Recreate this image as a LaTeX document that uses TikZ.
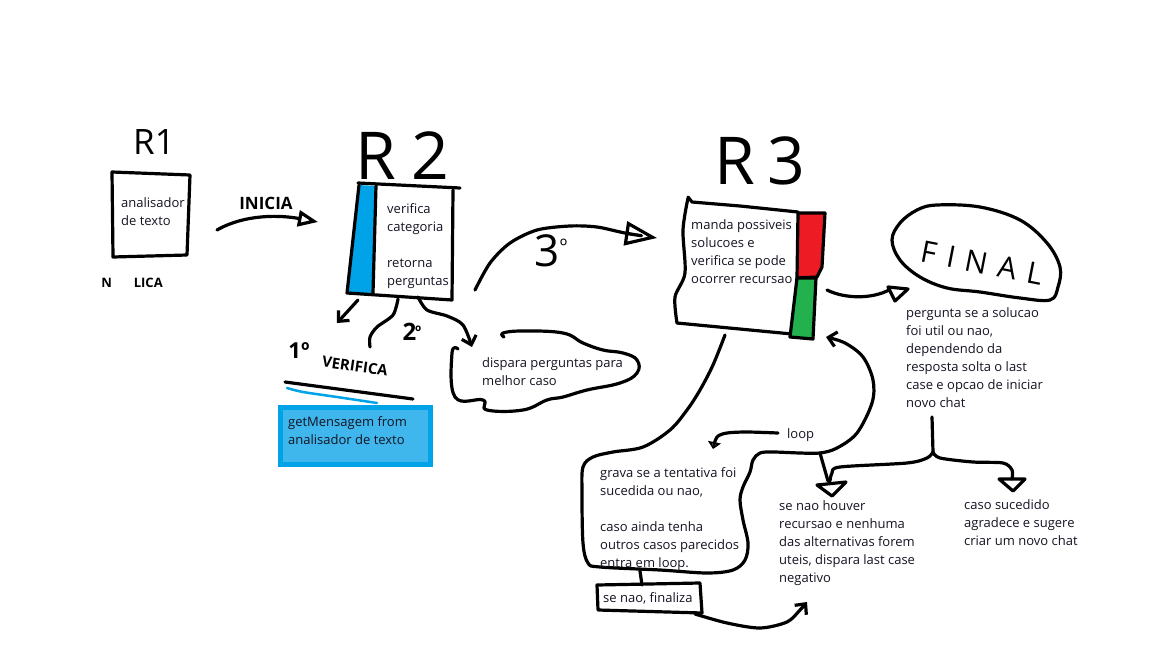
\documentclass[tikz,border=0pt]{standalone}
\usepackage{fontspec}
\setmainfont{Open Sans}
\usetikzlibrary{arrows.meta}
\definecolor{paintblue}{RGB}{0,162,232}
\definecolor{boxblue}{RGB}{63,182,236}
\definecolor{paintred}{RGB}{237,28,36}
\definecolor{paintgreen}{RGB}{34,177,76}
\definecolor{inktext}{RGB}{20,20,35}
\tikzset{
  ink/.style={line width=3.2pt, line cap=round, line join=round, draw=black},
  note/.style={anchor=north west, inner sep=0pt, align=left, text=inktext,
    font=\fontsize{13}{18}\selectfont},
  hand/.style={inner sep=0pt, text=black},
  barb/.style={-{Straight Barb[length=8pt,width=15pt]}},
}
\begin{document}
\begin{tikzpicture}[x=1pt,y=-1pt]
\fill[white] (0,0) rectangle (1152,648);
\useasboundingbox (0,0) rectangle (1152,648);

% ---------- R1 ----------
\node[hand, font=\fontsize{35}{35}\selectfont] (r1label) at (154,142) {R1};
\draw[ink] (112,172) -- (190,175) -- (187,255) -- (113,257) -- cycle;
\node[note] (r1text) at (121,197) {analisador\\de texto};
\node[hand, font=\bfseries\fontsize{13}{13}\selectfont] (r1note) at (132,283) {N\hspace{22pt}LICA};

% INICIA arrow
\coordinate (r1out) at (217,230);
\coordinate (r2in) at (318,222);
\draw[ink, -{Triangle[open,length=20pt,width=16pt]}] (r1out) .. controls (245,214) and (280,215) .. (r2in);
\node[hand, font=\bfseries\fontsize{17}{17}\selectfont] (inicia) at (266,203) {INICIA};

% ---------- R2 ----------
\node[hand, font=\fontsize{66}{66}\selectfont] (r2label) at (402,156) {R\hspace{15pt}2};
\fill[paintblue] (359,185) -- (376,186) -- (372,293) -- (347,293) -- cycle;
\draw[ink] (358,183) -- (460,188);
\draw[ink] (359,185) -- (347,293) -- (452,300) -- (453,190);
\draw[ink] (376,186) -- (373,293);
\node[note] (r2text) at (387,203) {verifica\\categoria\\[18pt]retorna\\perguntas};

% arrows leaving R2
\coordinate (r2a) at (358,300);
\coordinate (r2b) at (398,299);
\coordinate (r2c) at (418,297);
\draw[ink, barb] (r2a) -- (337,323);
\draw[ink] plot[smooth] coordinates {(r2b) (393,315) (377,327) (370,337) (370,347)};
\node[hand, font=\bfseries\fontsize{24}{24}\selectfont] (second) at (412,332) {2\kern-1pt\raisebox{3pt}{\fontsize{16}{16}\selectfont º}};
\draw[ink, barb] plot[smooth] coordinates {(r2c) (427,310) (447,316) (463,325) (472,347)};

% 1º VERIFICA and getMensagem
\node[hand, font=\bfseries\fontsize{22}{22}\selectfont] (first) at (299,351) {1º};
\node[hand, rotate=-8, font=\bfseries\fontsize{15}{15}\selectfont] (verifica) at (355,366) {VERIFICA};
\draw[ink] (285,382) -- (413,399);
\draw[paintblue, line width=2.5pt, line cap=round] plot[smooth] coordinates {(287,388) (303,392) (337,397) (377,403)};
\draw[paintblue, line width=5pt, fill=boxblue] (280.5,407.5) rectangle (430.5,464.5);
\node[note] (getmsg) at (288,416) {getMensagem from\\analisador de texto};

% cloud
\draw[ink] plot[smooth, tension=0.7] coordinates {(458,349) (452,353) (455,397) (483,400) (487,410) (523,410) (547,400) (563,397) (587,390) (620,383) (637,373) (637,360) (623,353) (603,350) (583,343) (563,333) (523,331) (503,333) (504,337)};
\node[note] (cloudtext) at (482,357) {dispara perguntas para\\melhor caso};

% 3º arrow to R3
\draw[ink, -{Triangle[open,length=32pt,width=24pt]}] plot[smooth] coordinates {(475,290) (490,263) (510,243) (537,230) (570,226) (597,227) (625,233) (657,238)};
\node[hand, font=\fontsize{44}{44}\selectfont] (third) at (551,251) {3\raisebox{13pt}{\fontsize{20}{20}\selectfont º}};

% ---------- R3 ----------
\node[hand, font=\fontsize{66}{66}\selectfont] (r3label) at (760,161) {R\hspace{12pt}3};
\draw[ink] (798,212) -- (740,206) -- (692,202) -- (688,197);
\draw[ink] plot[smooth] coordinates {(688,198) (683,230) (685,273) (675,297) (677,323)};
\draw[ink] (677,323) -- (792,334);
\filldraw[ink, fill=paintred] (798,213) -- (825,213) -- (822,267) -- (817,277) -- (797,278) -- cycle;
\filldraw[ink, fill=paintgreen] (797,278) -- (816,278) -- (813,339) -- (790,337) -- cycle;
\node[note] (r3text) at (691,219) {manda possiveis\\solucoes e\\verifica se pode\\ocorrer recursao};

% R3 to FINAL
\coordinate (r3out) at (827,290);
\draw[ink] (r3out) .. controls (845,299) and (872,299) .. (889,290);
\draw[ink] (888,287) -- (908,289) -- (895,301) -- cycle;

% ---------- FINAL ----------
\draw[ink] plot[smooth cycle, tension=0.6] coordinates {(892,240) (900,223) (917,210) (937,205) (980,207) (1020,220) (1047,243) (1060,267) (1058,287) (1050,300) (1020,298) (980,292) (947,288) (920,277) (900,260)};
\node[hand, rotate=-11, font=\fontsize{30}{30}\selectfont\addfontfeatures{LetterSpace=35}] (final) at (982,263) {FINAL};
\node[note] (finaltext) at (906,307) {pergunta se a solucao\\foi util ou nao,\\dependendo da\\resposta solta o last\\case e opcao de iniciar\\novo chat};

% branches
\coordinate (fork) at (933,452);
\draw[ink] (932,417) -- (fork);
\draw[ink] plot[smooth] coordinates {(fork) (927,458) (907,463) (840,467) (832,473) (830,481)};
\draw[ink] (817,485) -- (846,482) -- (832,496) -- cycle;
\draw[ink] plot[smooth] coordinates {(fork) (940,458) (973,462) (1003,463) (1012,470) (1012,479)};
\draw[ink] (999,479) -- (1025,479) -- (1013,491) -- cycle;
\node[note] (sucedido) at (964,499) {caso sucedido\\agradece e sugere\\criar um novo chat};
\node[note] (negativo) at (779,500) {se nao houver\\recursao e nenhuma\\das alternativas forem\\uteis, dispara last case\\negativo};

% ---------- loop ----------
\coordinate (r3down) at (725,335);
\draw[ink, barb] plot[smooth, tension=0.55] coordinates {(r3down) (713,365) (700,390) (687,410) (670,430) (643,447) (613,452) (593,457) (583,467) (582,493) (583,543) (588,563) (600,567) (660,570) (707,573) (733,570) (745,560) (748,543) (743,520) (740,500) (743,487) (750,472) (753,460) (760,453) (773,452) (800,453) (820,453) (837,448) (857,433) (872,403) (873,380) (863,357) (845,343) (826,337)};
\draw[ink] (820,453) -- (828,481);
\node[note] (grava) at (600,467) {grava se a tentativa foi\\sucedida ou nao,\\[18pt]caso ainda tenha\\outros casos parecidos\\entra em loop.};
\node[note] (looplabel) at (787,428) {loop};
\draw[ink, -{Triangle[open,length=7pt,width=13pt]}] plot[smooth] coordinates {(778,433) (747,432) (727,433) (717,437) (713,449)};

% se nao, finaliza
\draw[ink] (640,571) -- (642,585);
\draw[ink] (597,585) -- (700,583) -- (702,613) -- (598,610) -- cycle;
\node[note] (finaliza) at (603,592) {se nao, finaliza};
\draw[ink, barb] plot[smooth] coordinates {(695,614) (727,623) (760,628) (787,622) (800,610) (807,602)};
\end{tikzpicture}
\end{document}
